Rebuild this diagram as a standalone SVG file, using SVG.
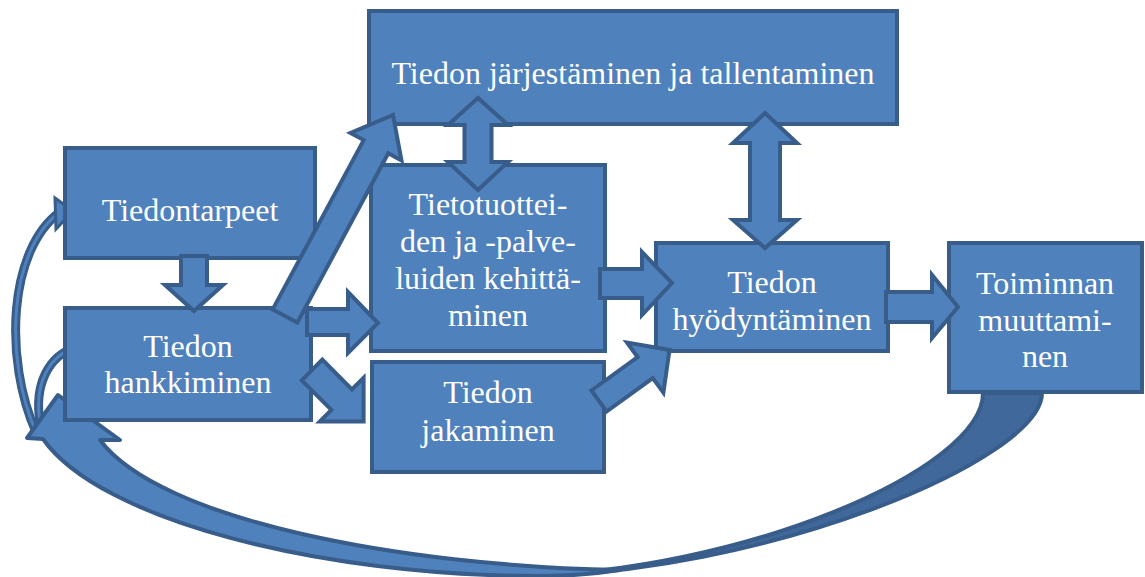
<svg xmlns="http://www.w3.org/2000/svg" width="1145" height="577" viewBox="0 0 1145 577">
  <style>
    .box { fill:#4F81BD; stroke:#385D8A; stroke-width:4; }
    .arr { fill:#4F81BD; stroke:#385D8A; stroke-width:4; stroke-linejoin:miter; }
    .back { fill:#40689A; stroke:#385D8A; stroke-width:4; stroke-linejoin:round; }
    .sweep { fill:#4F81BD; stroke:#385D8A; stroke-width:4; stroke-linejoin:round; }
    .thin-out { fill:none; stroke:#385D8A; stroke-width:9; stroke-linecap:butt; }
    .thin-in { fill:none; stroke:#4F81BD; stroke-width:3; stroke-linecap:butt; }
    .lbl { font-family:"Liberation Serif","Times New Roman",serif; font-size:32px; fill:#FFFFFF; text-anchor:middle; }
  </style>

  <!-- feedback loop behind the boxes -->
  <g id="loop">
    <path class="back" d="M983,393 L1042,393 C1042,460 760,576 520,576 C740,572 983,470 983,393 Z"/>
    <path class="thin-out" d="M36,432 C4,360 8,250 60,212"/>
    <path class="thin-in" d="M36,432 C4,360 8,250 60,212"/>
    <polygon class="arr" points="55,198 73,211 56,229" style="stroke-width:3"/>
    <path class="thin-out" d="M40,422 C34,385 48,356 76,347"/>
    <path class="thin-in" d="M40,422 C34,385 48,356 76,347"/>
    <polygon class="arr" points="74,337 89,349 76,362" style="stroke-width:3"/>
    <path class="sweep" d="M620,570 C595,574 570,576 540,576 C320,576 100,520 43,439 L27,438 L58,395 L120,440 L100,440 C160,520 400,566 620,570 Z"/>
  </g>

  <g id="n-tallentaminen">
    <rect class="box" x="369" y="11" width="528" height="113"/>
    <text class="lbl" x="633" y="84">Tiedon järjestäminen ja tallentaminen</text>
  </g>
  <g id="n-tiedontarpeet">
    <rect class="box" x="65" y="148" width="250" height="110"/>
    <text class="lbl" x="190" y="221">Tiedontarpeet</text>
  </g>
  <g id="n-hankkiminen">
    <rect class="box" x="65" y="308" width="246" height="112"/>
    <text class="lbl" x="188" y="357">Tiedon</text>
    <text class="lbl" x="188" y="393">hankkiminen</text>
  </g>
  <g id="n-tietotuotteet">
    <rect class="box" x="371" y="165" width="234" height="186"/>
    <text class="lbl" x="488" y="215">Tietotuottei-</text>
    <text class="lbl" x="488" y="252">den ja -palve-</text>
    <text class="lbl" x="488" y="289">luiden kehittä-</text>
    <text class="lbl" x="488" y="326">minen</text>
  </g>
  <g id="n-jakaminen">
    <rect class="box" x="372" y="362" width="232" height="110"/>
    <text class="lbl" x="488" y="403">Tiedon</text>
    <text class="lbl" x="488" y="441">jakaminen</text>
  </g>
  <g id="n-hyodyntaminen">
    <rect class="box" x="656" y="243" width="232" height="108"/>
    <text class="lbl" x="772" y="293">Tiedon</text>
    <text class="lbl" x="772" y="330">hyödyntäminen</text>
  </g>
  <g id="n-toiminnan">
    <rect class="box" x="949" y="243" width="193" height="149"/>
    <text class="lbl" x="1045" y="294">Toiminnan</text>
    <text class="lbl" x="1045" y="331">muuttami-</text>
    <text class="lbl" x="1045" y="367">nen</text>
  </g>

  <!-- block-arrow connectors -->
  <g id="connectors">
    <polygon class="arr" points="478,98 508,125 491.5,125 491.5,162 508,162 478,190 448,162 464.5,162 464.5,125 448,125"/>
    <polygon class="arr" points="765,113 797,143 780,143 780,220 797,220 765,248 733,220 750,220 750,143 733,143"/>
    <polygon class="arr" points="181,256 207,256 207,285 223,285 194,311 165,285 181,285"/>
    <polygon class="arr" points="272.7,309.4 363.7,140.1 350.5,133 393,115 401.5,160.4 388.3,153.3 297.3,322.6"/>
    <polygon class="arr" points="307,309 348,309 348,292 378,323 348,353 348,335 307,335"/>
    <polygon class="arr" points="301.7,380.3 322.3,359.7 351.9,389.4 363.6,377.8 363.6,421.6 319.8,421.6 331.4,409.9"/>
    <polygon class="arr" points="600,269 642,269 642,252 672,283 642,315 642,298 600,298"/>
    <polygon class="arr" points="591.4,390.5 637.6,357.1 627,342.5 669.5,350 663.4,392.7 652.8,378.1 606.6,411.5"/>
    <polygon class="arr" points="886,292 932,292 932,275 958,307 932,338 932,322 886,322"/>
  </g>
</svg>
